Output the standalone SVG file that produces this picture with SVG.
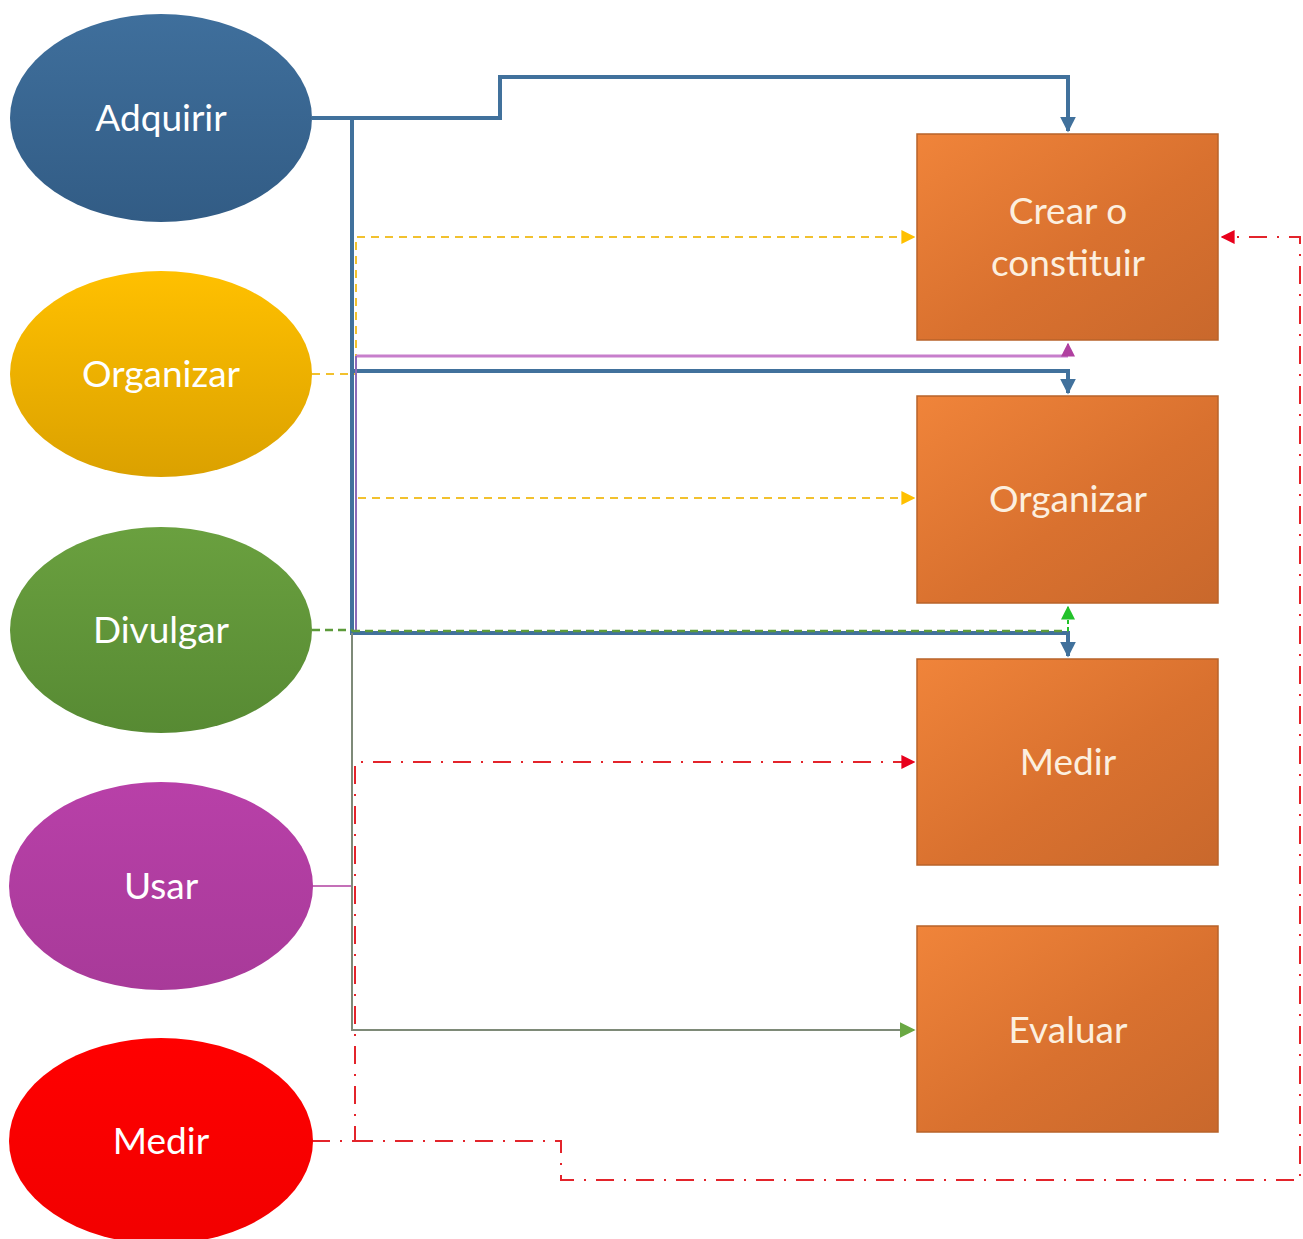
<svg xmlns="http://www.w3.org/2000/svg" width="1303" height="1239" viewBox="0 0 1303 1239">
  <defs>
    <linearGradient id="gBlue" x1="0" y1="0" x2="0" y2="1">
      <stop offset="0" stop-color="#3F6F9C"/>
      <stop offset="1" stop-color="#325C85"/>
    </linearGradient>
    <linearGradient id="gYellow" x1="0" y1="0" x2="0" y2="1">
      <stop offset="0" stop-color="#FFC000"/>
      <stop offset="1" stop-color="#DBA100"/>
    </linearGradient>
    <linearGradient id="gGreen" x1="0" y1="0" x2="0" y2="1">
      <stop offset="0" stop-color="#6AA03F"/>
      <stop offset="1" stop-color="#578A33"/>
    </linearGradient>
    <linearGradient id="gPurple" x1="0" y1="0" x2="0" y2="1">
      <stop offset="0" stop-color="#B840A8"/>
      <stop offset="1" stop-color="#A83A99"/>
    </linearGradient>
    <linearGradient id="gRed" x1="0" y1="0" x2="0" y2="1">
      <stop offset="0" stop-color="#FF0000"/>
      <stop offset="1" stop-color="#F20000"/>
    </linearGradient>
    <linearGradient id="gOrange" x1="0" y1="0" x2="1" y2="1">
      <stop offset="0" stop-color="#F0843A"/>
      <stop offset="0.55" stop-color="#D9712F"/>
      <stop offset="1" stop-color="#C9682C"/>
    </linearGradient>
    <marker id="aBlue" viewBox="0 0 10 10" refX="9" refY="5" markerWidth="4" markerHeight="4" orient="auto" markerUnits="strokeWidth">
      <path d="M0,0 L10,5 L0,10 z" fill="#41719C"/>
    </marker>
    <marker id="aYellow" viewBox="0 0 10 10" refX="9" refY="5" markerWidth="7" markerHeight="7" orient="auto" markerUnits="strokeWidth">
      <path d="M0,0 L10,5 L0,10 z" fill="#FFC000"/>
    </marker>
    <marker id="aPurple" viewBox="0 0 10 10" refX="9" refY="5" markerWidth="7" markerHeight="7" orient="auto" markerUnits="strokeWidth">
      <path d="M0,0 L10,5 L0,10 z" fill="#B040A0"/>
    </marker>
    <marker id="aGreen" viewBox="0 0 10 10" refX="9" refY="5" markerWidth="7" markerHeight="7" orient="auto" markerUnits="strokeWidth">
      <path d="M0,0 L10,5 L0,10 z" fill="#22C22A"/>
    </marker>
    <marker id="aOlive" viewBox="0 0 10 10" refX="9" refY="5" markerWidth="8" markerHeight="8" orient="auto" markerUnits="strokeWidth">
      <path d="M0,0 L10,5 L0,10 z" fill="#6AA843"/>
    </marker>
    <marker id="aRed" viewBox="0 0 10 10" refX="9" refY="5" markerWidth="7" markerHeight="7" orient="auto" markerUnits="strokeWidth">
      <path d="M0,0 L10,5 L0,10 z" fill="#E8001C"/>
    </marker>
  </defs>
  <style>
    .lbl { font-family: "Lato", "Liberation Sans", sans-serif; font-size: 37px; fill: #FFFFFF; text-anchor: middle; }
    .blbl { font-family: "Lato", "Liberation Sans", sans-serif; font-size: 37px; fill: #FCEFDF; text-anchor: middle; }
    .box { fill: url(#gOrange); stroke: #B8632A; stroke-width: 1.5; }
    .blue { fill: none; stroke: #41719C; stroke-width: 4; }
    .yel { fill: none; stroke: #F2C12E; stroke-width: 2; stroke-dasharray: 8 6; }
    .pur { fill: none; stroke: #C77FCC; stroke-width: 3; }
    .grn { fill: none; stroke: #5C9A3A; stroke-width: 2.5; stroke-dasharray: 8 5; }
    .olv { fill: none; stroke: #7E8A78; stroke-width: 2; }
    .red { fill: none; stroke: #E3242B; stroke-width: 2; stroke-dasharray: 18 10 2 10; }
  </style>
  <rect width="1303" height="1239" fill="#FFFFFF"/>

  <!-- connectors -->
  <g id="connectors">
    <!-- Adquirir -> Crear o constituir -->
    <path class="blue" d="M312,118 H500 V77 H1068 V131" marker-end="url(#aBlue)"/>
    <!-- Adquirir -> Organizar -->
    <path class="blue" d="M312,118 H352 V371 H1068 V393" marker-end="url(#aBlue)"/>
    <!-- Adquirir -> Medir -->
    <path class="blue" d="M352,371 V633 H1068 V656" marker-end="url(#aBlue)"/>
    <!-- Organizar -> Crear o constituir / Organizar -->
    <path class="yel" d="M312,374 H356 V237 H914" marker-end="url(#aYellow)"/>
    <path class="yel" d="M356,374 V498 H914" marker-end="url(#aYellow)"/>
    <!-- Usar -> Crear o constituir -->
    <path class="pur" d="M1068,356 H356"/>
    <path fill="none" stroke="#8B6AB8" stroke-width="2" d="M356,356 V630"/>
    <path fill="none" stroke="#B040A0" stroke-width="1.5" d="M312,886 H352"/>
    <path fill="none" stroke="#B040A0" stroke-width="2" d="M1068,356 V344" marker-end="url(#aPurple)"/>
    <!-- Divulgar -> Organizar / Evaluar -->
    <path class="grn" d="M312,630 H352"/>
    <path class="grn" d="M352,631 H1068"/>
    <path fill="none" stroke="#22C22A" stroke-width="2" stroke-dasharray="4 3" d="M1068,631 V607" marker-end="url(#aGreen)"/>
    <path class="olv" d="M352,633 V1030 H914" marker-end="url(#aOlive)"/>
    <!-- Medir -> Medir / Crear o constituir -->
    <path class="red" d="M312,1141 H355 V762 H914" marker-end="url(#aRed)"/>
    <path class="red" d="M355,1141 H561 V1180 H1300 V237 H1222" marker-end="url(#aRed)"/>
  </g>

  <!-- source ellipses -->
  <g id="adquirir">
    <ellipse cx="161" cy="118" rx="151" ry="104" fill="url(#gBlue)"/>
    <text class="lbl" x="161" y="131">Adquirir</text>
  </g>
  <g id="organizar-src">
    <ellipse cx="161" cy="374" rx="151" ry="103" fill="url(#gYellow)"/>
    <text class="lbl" x="161" y="387">Organizar</text>
  </g>
  <g id="divulgar">
    <ellipse cx="161" cy="630" rx="151" ry="103" fill="url(#gGreen)"/>
    <text class="lbl" x="161" y="643">Divulgar</text>
  </g>
  <g id="usar">
    <ellipse cx="161" cy="886" rx="152" ry="104" fill="url(#gPurple)"/>
    <text class="lbl" x="161" y="899">Usar</text>
  </g>
  <g id="medir-src">
    <ellipse cx="161" cy="1141" rx="152" ry="103" fill="url(#gRed)"/>
    <text class="lbl" x="161" y="1154">Medir</text>
  </g>

  <!-- target boxes -->
  <g id="crear">
    <rect class="box" x="917" y="134" width="301" height="206"/>
    <text class="blbl" x="1068" y="224">Crear o</text>
    <text class="blbl" x="1068" y="276">constituir</text>
  </g>
  <g id="organizar-dst">
    <rect class="box" x="917" y="396" width="301" height="207"/>
    <text class="blbl" x="1068" y="512">Organizar</text>
  </g>
  <g id="medir-dst">
    <rect class="box" x="917" y="659" width="301" height="206"/>
    <text class="blbl" x="1068" y="775">Medir</text>
  </g>
  <g id="evaluar">
    <rect class="box" x="917" y="926" width="301" height="206"/>
    <text class="blbl" x="1068" y="1043">Evaluar</text>
  </g>
</svg>
